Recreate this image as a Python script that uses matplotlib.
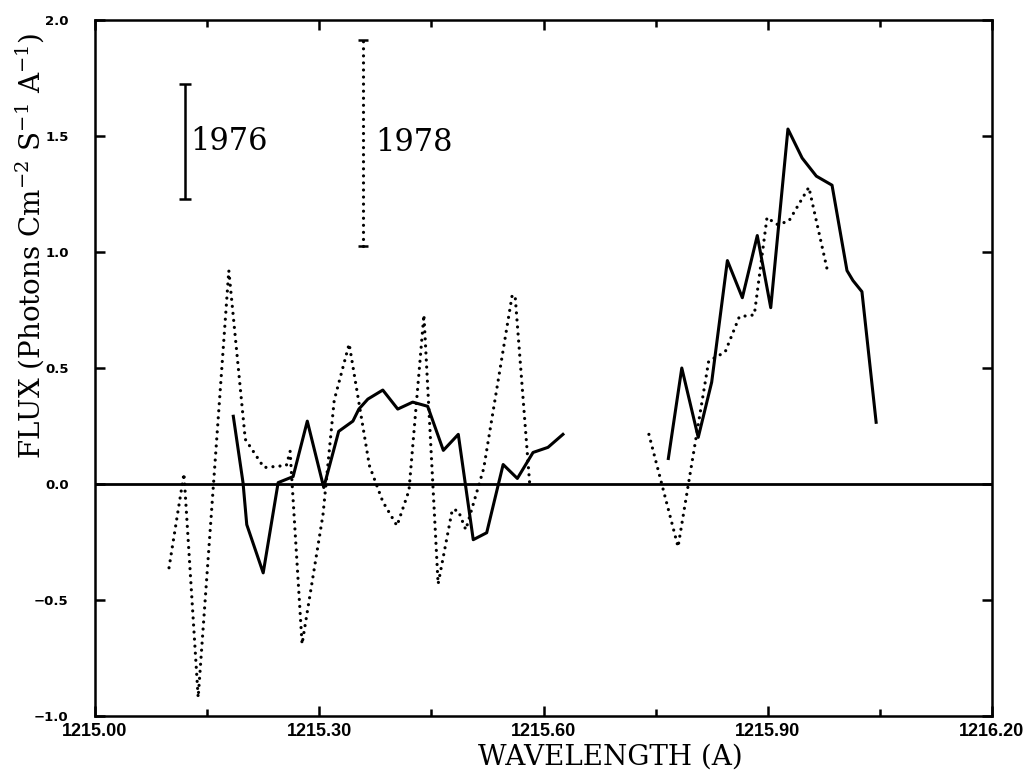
import matplotlib

matplotlib.use("Agg")
import matplotlib.pyplot as plt
from matplotlib.ticker import MultipleLocator

plt.rcParams["mathtext.fontset"] = "dejavuserif"

# 1976 spectrum (solid), two pieces
WAVE_1976_A = [1215.185, 1215.198, 1215.203, 1215.225, 1215.245, 1215.265, 1215.284,
               1215.306, 1215.326, 1215.345, 1215.353, 1215.365, 1215.385, 1215.405,
               1215.425, 1215.445, 1215.466, 1215.486, 1215.506, 1215.524, 1215.546,
               1215.565, 1215.586, 1215.606, 1215.626]
FLUX_1976_A = [0.292, 0.006, -0.175, -0.383, 0.006, 0.032, 0.271,
               -0.015, 0.227, 0.271, 0.323, 0.366, 0.405, 0.323,
               0.353, 0.335, 0.145, 0.214, -0.240, -0.210, 0.084,
               0.024, 0.136, 0.158, 0.214]
WAVE_1976_B = [1215.767, 1215.785, 1215.807, 1215.825, 1215.846, 1215.866, 1215.886,
               1215.904, 1215.927, 1215.946, 1215.965, 1215.986, 1216.006, 1216.014,
               1216.026, 1216.045]
FLUX_1976_B = [0.110, 0.500, 0.201, 0.439, 0.963, 0.803, 1.071,
               0.760, 1.530, 1.405, 1.327, 1.288, 0.920, 0.877,
               0.829, 0.266]

# 1978 spectrum (dotted), two pieces
WAVE_1978_A = [1215.099, 1215.119, 1215.138, 1215.179, 1215.201, 1215.226, 1215.256,
               1215.261, 1215.277, 1215.305, 1215.320, 1215.340, 1215.367, 1215.385,
               1215.404, 1215.420, 1215.440, 1215.459, 1215.478, 1215.486, 1215.496,
               1215.520, 1215.558, 1215.562, 1215.582]
FLUX_1978_A = [-0.361, 0.045, -0.920, 0.920, 0.193, 0.071, 0.080,
               0.141, -0.690, -0.132, 0.361, 0.604, 0.080, -0.076,
               -0.180, -0.028, 0.729, -0.431, -0.110, -0.115, -0.197,
               0.067, 0.812, 0.812, -0.019]
WAVE_1978_B = [1215.741, 1215.780, 1215.821, 1215.843, 1215.862, 1215.882, 1215.899,
               1215.912, 1215.928, 1215.955, 1215.981]
FLUX_1978_B = [0.214, -0.271, 0.530, 0.569, 0.721, 0.729, 1.149,
               1.119, 1.132, 1.279, 0.903]

# error-bar keys: (wavelength, centre, half height)
KEY_1976 = (1215.120, 1.476, 0.249)
KEY_1978 = (1215.3585, 1.470, 0.442)

X_TICKS = [1215.00, 1215.30, 1215.60, 1215.90, 1216.20]
X_TICK_LABELS = ["1215.00", "1215.30", "1215.60", "1215.90", "1216.20"]
Y_TICKS = [-1.0, -0.5, 0.0, 0.5, 1.0, 1.5, 2.0]

DOT_WIDTH = 2.3
DOTTED = (0, (0.01, 2.2))
SERIF = "DejaVu Serif"


def dotted(ax, x, y):
    ax.plot(x, y, color="black", linewidth=DOT_WIDTH, linestyle=DOTTED, dash_capstyle="round")


def main():
    fig = plt.figure(figsize=(10.25, 7.75), dpi=100)
    ax = fig.add_axes([0.0927, 0.0761, 0.8751, 0.8981])

    ax.axhline(0.0, color="black", linewidth=2.0)

    ax.plot(WAVE_1976_A, FLUX_1976_A, color="black", linewidth=2.2)
    ax.plot(WAVE_1976_B, FLUX_1976_B, color="black", linewidth=2.2)
    dotted(ax, WAVE_1978_A, FLUX_1978_A)
    dotted(ax, WAVE_1978_B, FLUX_1978_B)

    x76, y76, h76 = KEY_1976
    ax.errorbar([x76], [y76], yerr=[h76], fmt="none", ecolor="black",
                elinewidth=1.8, capsize=4.3, capthick=1.8)
    ax.text(x76 + 0.007, y76, "1976", fontsize=22, family=SERIF, va="center", ha="left")

    x78, y78, h78 = KEY_1978
    dotted(ax, [x78, x78], [y78 - h78, y78 + h78])
    ax.plot([x78, x78], [y78 - h78, y78 + h78], linestyle="none", marker="_",
            markersize=7, markeredgewidth=1.8, color="black")
    ax.text(x78 + 0.016, y78, "1978", fontsize=22, family=SERIF, va="center", ha="left")

    ax.set_xlim(1215.0, 1216.2)
    ax.set_ylim(-1.0, 2.0)
    ax.set_xticks(X_TICKS, X_TICK_LABELS)
    ax.xaxis.set_minor_locator(MultipleLocator(0.15))
    ax.set_yticks(Y_TICKS, [f"{v:.1f}".replace("-", "\u2212") for v in Y_TICKS])

    ax.tick_params(which="both", direction="in", top=True, right=True, width=1.8)
    ax.tick_params(which="major", length=7)
    ax.tick_params(which="minor", length=5)
    ax.tick_params(axis="x", labelsize=13, pad=5)
    ax.tick_params(axis="y", labelsize=9.5, pad=19)
    for label in ax.get_xticklabels():
        label.set_fontweight("bold")
        label.set_family("Liberation Sans")
    for label in ax.get_yticklabels():
        label.set_fontweight("bold")
    for spine in ax.spines.values():
        spine.set_linewidth(1.8)

    ax.set_xlabel("WAVELENGTH (A)", fontsize=20, family=SERIF)
    ax.xaxis.set_label_coords(0.575, -0.04)
    ax.set_ylabel(r"FLUX (Photons Cm$^{-2}$ S$^{-1}$ A$^{-1}$)", fontsize=20, family=SERIF)
    ax.yaxis.set_label_coords(-0.055, 0.675)

    fig.savefig("out.png", dpi=100)
    plt.close(fig)


if __name__ == "__main__":
    main()
